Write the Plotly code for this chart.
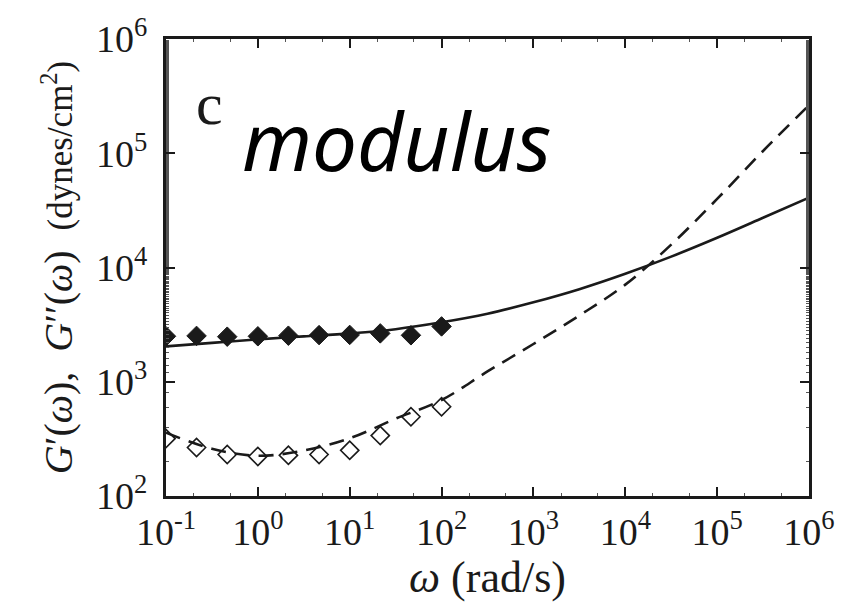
import plotly.graph_objects as go

omega_data = [0.1, 0.215, 0.464, 1.0, 2.15, 4.64, 10.0, 21.5, 46.4, 100.0]
g_storage = [2500, 2520, 2480, 2500, 2530, 2560, 2570, 2650, 2550, 3050]
g_loss = [318, 266, 231, 222, 227, 231, 251, 338, 494, 604]

# Fit curves
omega_fit = [0.1, 0.316, 1.0, 3.16, 10.0, 31.6, 100.0, 316.0, 1000.0, 3160.0,
             1.0e4, 3.16e4, 1.0e5, 3.16e5, 1.0e6]
g_storage_fit = [2042, 2188, 2350, 2495, 2649, 2884, 3311, 3936, 4955, 6457,
                 8810, 12450, 18200, 27230, 40930]
g_loss_fit = [359, 259, 225, 250, 320, 475, 692, 1230, 2140, 3800,
              7080, 15850, 39800, 104700, 263000]

x_tickvals = [0.1, 1, 10, 100, 1e3, 1e4, 1e5, 1e6]
x_ticktext = ["10<sup>-1</sup>", "10<sup>0</sup>", "10<sup>1</sup>", "10<sup>2</sup>",
              "10<sup>3</sup>", "10<sup>4</sup>", "10<sup>5</sup>", "10<sup>6</sup>"]
y_tickvals = [1e2, 1e3, 1e4, 1e5, 1e6]
y_ticktext = ["10<sup>2</sup>", "10<sup>3</sup>", "10<sup>4</sup>", "10<sup>5</sup>", "10<sup>6</sup>"]

SERIF = "Liberation Serif"
INK = "#1a1a1a"

fig = go.Figure()
fig.add_trace(go.Scatter(x=omega_fit, y=g_storage_fit, mode="lines", line_shape="spline",
                         line=dict(color=INK, width=2.6), showlegend=False))
fig.add_trace(go.Scatter(x=omega_fit, y=g_loss_fit, mode="lines", line_shape="spline",
                         line=dict(color=INK, width=2.6, dash="15px,9px"), showlegend=False))
fig.add_trace(go.Scatter(x=omega_data, y=g_storage, mode="markers",
                         marker=dict(symbol="diamond", size=15, color=INK,
                                     line=dict(color=INK, width=1)), showlegend=False))
fig.add_trace(go.Scatter(x=omega_data, y=g_loss, mode="markers",
                         marker=dict(symbol="diamond-open", size=14, color=INK,
                                     line=dict(color=INK, width=1.6)), showlegend=False))

axis_common = dict(type="log", showgrid=False, zeroline=False, showline=True,
                   linecolor=INK, linewidth=3, mirror="ticks",
                   ticks="inside", ticklen=9, tickwidth=2, tickcolor=INK,
                   tickfont=dict(family=SERIF, size=38, color=INK),
                   minor=dict(ticks="inside", ticklen=3, tickwidth=1, tickcolor="#555555"))

fig.update_xaxes(range=[-1, 6], tickvals=x_tickvals, ticktext=x_ticktext,
                 title_text="<i>ω</i> (rad/s)",
                 title_font=dict(family=SERIF, size=44, color=INK),
                 title_standoff=4,
                 **axis_common)
fig.update_yaxes(range=[2, 6], tickvals=y_tickvals, ticktext=y_ticktext, ticklabelstandoff=8,
                 title_text="<i>G</i>′(<i>ω</i>),  <i>G</i>′′(<i>ω</i>)  "
                            "<span style='font-size:35px'>(dynes/cm<sup>2</sup>)</span>",
                 title_font=dict(family=SERIF, size=40, color=INK),
                 title_standoff=12,
                 **axis_common)

fig.add_annotation(text="c", xref="paper", yref="paper", x=0.068, y=0.857,
                   xanchor="center", yanchor="middle", showarrow=False,
                   font=dict(family=SERIF, size=60, color=INK))
fig.add_annotation(text="modulus", xref="paper", yref="paper", x=0.359, y=0.781,
                   xanchor="center", yanchor="middle", showarrow=False,
                   font=dict(family="Noto Sans", size=80, color="#000000", style="italic"))

fig.update_layout(width=847, height=615, margin=dict(l=166, r=38, t=35, b=119),
                  paper_bgcolor="white", plot_bgcolor="white")

fig.write_html("out.html")
